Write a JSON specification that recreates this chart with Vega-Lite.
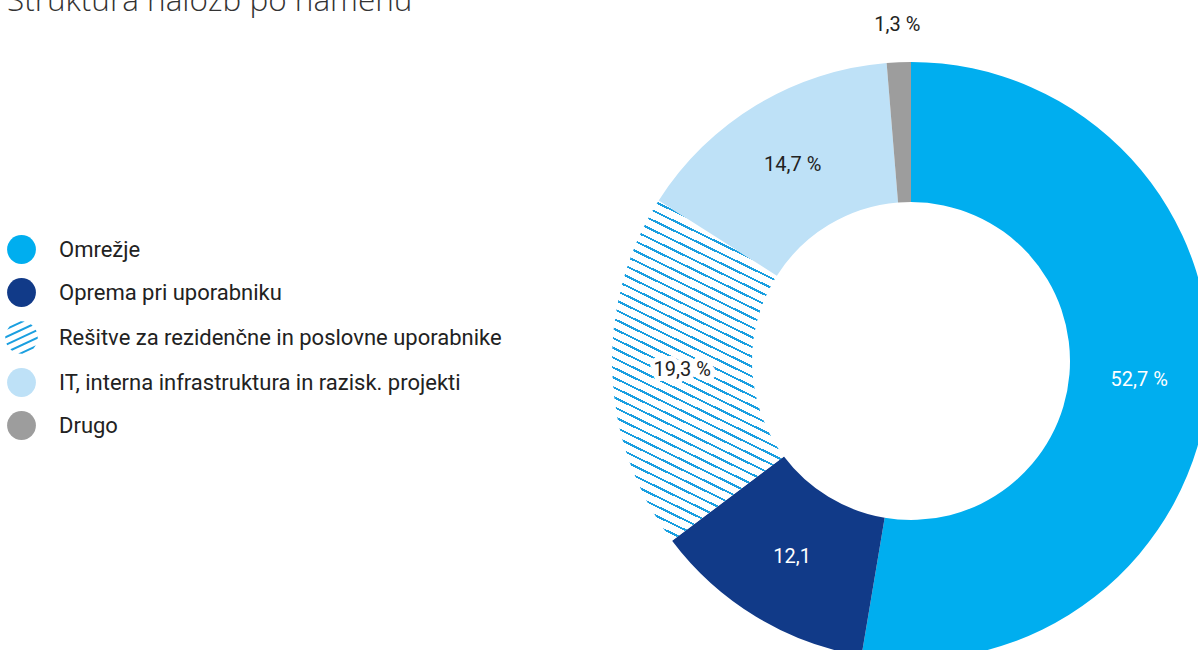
{
  "$schema": "https://vega.github.io/schema/vega-lite/v6.json",
  "autosize": {"type": "none"},
  "width": 574,
  "height": 578,
  "padding": {"left": 624, "top": 72, "right": 0, "bottom": 0},
  "background": "white",
  "title": {
    "text": "Struktura naložb po namenu",
    "anchor": "start",
    "frame": "bounds",
    "font": "Open Sans",
    "fontWeight": 300,
    "fontSize": 31.5,
    "color": "#333333",
    "dx": 0,
    "dy": 6
  },
  "data": {
    "values": [
      {"cat": "Omrežje", "value": 52.7, "label": "52,7 %", "rank": 1},
      {"cat": "Oprema pri uporabniku", "value": 12.1, "label": "12,1", "rank": 2},
      {"cat": "Rešitve za rezidenčne in poslovne uporabnike", "value": 19.3, "label": "19,3 %", "rank": 3},
      {"cat": "IT, interna infrastruktura in razisk. projekti", "value": 14.7, "label": "14,7 %", "rank": 4},
      {"cat": "Drugo", "value": 1.3, "label": "1,3 %", "rank": 5}
    ]
  },
  "layer": [
    {
      "mark": {"type": "arc", "outerRadius": 299, "innerRadius": 159},
      "encoding": {
        "theta": {"field": "value", "type": "quantitative", "stack": true},
        "order": {"field": "rank", "type": "quantitative"},
        "color": {
          "field": "cat",
          "type": "nominal",
          "sort": ["Omrežje", "Oprema pri uporabniku", "Rešitve za rezidenčne in poslovne uporabnike", "IT, interna infrastruktura in razisk. projekti", "Drugo"],
          "scale": {
            "domain": ["Omrežje", "Oprema pri uporabniku", "Rešitve za rezidenčne in poslovne uporabnike", "IT, interna infrastruktura in razisk. projekti", "Drugo"],
            "range": ["#00AEEF", "#113A88", "#1A9FE0", "#BEE1F7", "#9D9D9D"]
          },
          "condition": {
            "test": "datum.rank === 3",
            "value": {
              "gradient": "linear", "x1": 1, "y1": 0, "x2": 0.7104, "y2": 1.175,
              "stops": [
                {"offset":0.0100,"color":"#ffffff"},{"offset":0.0100,"color":"#1A9FE0"},{"offset":0.0153,"color":"#1A9FE0"},{"offset":0.0153,"color":"#ffffff"},
                {"offset":0.0331,"color":"#ffffff"},{"offset":0.0331,"color":"#1A9FE0"},{"offset":0.0384,"color":"#1A9FE0"},{"offset":0.0384,"color":"#ffffff"},
                {"offset":0.0562,"color":"#ffffff"},{"offset":0.0562,"color":"#1A9FE0"},{"offset":0.0615,"color":"#1A9FE0"},{"offset":0.0615,"color":"#ffffff"},
                {"offset":0.0793,"color":"#ffffff"},{"offset":0.0793,"color":"#1A9FE0"},{"offset":0.0846,"color":"#1A9FE0"},{"offset":0.0846,"color":"#ffffff"},
                {"offset":0.1024,"color":"#ffffff"},{"offset":0.1024,"color":"#1A9FE0"},{"offset":0.1077,"color":"#1A9FE0"},{"offset":0.1077,"color":"#ffffff"},
                {"offset":0.1255,"color":"#ffffff"},{"offset":0.1255,"color":"#1A9FE0"},{"offset":0.1308,"color":"#1A9FE0"},{"offset":0.1308,"color":"#ffffff"},
                {"offset":0.1486,"color":"#ffffff"},{"offset":0.1486,"color":"#1A9FE0"},{"offset":0.1539,"color":"#1A9FE0"},{"offset":0.1539,"color":"#ffffff"},
                {"offset":0.1717,"color":"#ffffff"},{"offset":0.1717,"color":"#1A9FE0"},{"offset":0.1770,"color":"#1A9FE0"},{"offset":0.1770,"color":"#ffffff"},
                {"offset":0.1948,"color":"#ffffff"},{"offset":0.1948,"color":"#1A9FE0"},{"offset":0.2001,"color":"#1A9FE0"},{"offset":0.2001,"color":"#ffffff"},
                {"offset":0.2179,"color":"#ffffff"},{"offset":0.2179,"color":"#1A9FE0"},{"offset":0.2232,"color":"#1A9FE0"},{"offset":0.2232,"color":"#ffffff"},
                {"offset":0.2410,"color":"#ffffff"},{"offset":0.2410,"color":"#1A9FE0"},{"offset":0.2463,"color":"#1A9FE0"},{"offset":0.2463,"color":"#ffffff"},
                {"offset":0.2641,"color":"#ffffff"},{"offset":0.2641,"color":"#1A9FE0"},{"offset":0.2694,"color":"#1A9FE0"},{"offset":0.2694,"color":"#ffffff"},
                {"offset":0.2872,"color":"#ffffff"},{"offset":0.2872,"color":"#1A9FE0"},{"offset":0.2925,"color":"#1A9FE0"},{"offset":0.2925,"color":"#ffffff"},
                {"offset":0.3103,"color":"#ffffff"},{"offset":0.3103,"color":"#1A9FE0"},{"offset":0.3156,"color":"#1A9FE0"},{"offset":0.3156,"color":"#ffffff"},
                {"offset":0.3334,"color":"#ffffff"},{"offset":0.3334,"color":"#1A9FE0"},{"offset":0.3387,"color":"#1A9FE0"},{"offset":0.3387,"color":"#ffffff"},
                {"offset":0.3565,"color":"#ffffff"},{"offset":0.3565,"color":"#1A9FE0"},{"offset":0.3618,"color":"#1A9FE0"},{"offset":0.3618,"color":"#ffffff"},
                {"offset":0.3796,"color":"#ffffff"},{"offset":0.3796,"color":"#1A9FE0"},{"offset":0.3849,"color":"#1A9FE0"},{"offset":0.3849,"color":"#ffffff"},
                {"offset":0.4027,"color":"#ffffff"},{"offset":0.4027,"color":"#1A9FE0"},{"offset":0.4080,"color":"#1A9FE0"},{"offset":0.4080,"color":"#ffffff"},
                {"offset":0.4258,"color":"#ffffff"},{"offset":0.4258,"color":"#1A9FE0"},{"offset":0.4311,"color":"#1A9FE0"},{"offset":0.4311,"color":"#ffffff"},
                {"offset":0.4489,"color":"#ffffff"},{"offset":0.4489,"color":"#1A9FE0"},{"offset":0.4542,"color":"#1A9FE0"},{"offset":0.4542,"color":"#ffffff"},
                {"offset":0.4720,"color":"#ffffff"},{"offset":0.4720,"color":"#1A9FE0"},{"offset":0.4773,"color":"#1A9FE0"},{"offset":0.4773,"color":"#ffffff"},
                {"offset":0.4951,"color":"#ffffff"},{"offset":0.4951,"color":"#1A9FE0"},{"offset":0.5004,"color":"#1A9FE0"},{"offset":0.5004,"color":"#ffffff"},
                {"offset":0.5182,"color":"#ffffff"},{"offset":0.5182,"color":"#1A9FE0"},{"offset":0.5235,"color":"#1A9FE0"},{"offset":0.5235,"color":"#ffffff"},
                {"offset":0.5413,"color":"#ffffff"},{"offset":0.5413,"color":"#1A9FE0"},{"offset":0.5466,"color":"#1A9FE0"},{"offset":0.5466,"color":"#ffffff"},
                {"offset":0.5644,"color":"#ffffff"},{"offset":0.5644,"color":"#1A9FE0"},{"offset":0.5697,"color":"#1A9FE0"},{"offset":0.5697,"color":"#ffffff"},
                {"offset":0.5875,"color":"#ffffff"},{"offset":0.5875,"color":"#1A9FE0"},{"offset":0.5928,"color":"#1A9FE0"},{"offset":0.5928,"color":"#ffffff"},
                {"offset":0.6106,"color":"#ffffff"},{"offset":0.6106,"color":"#1A9FE0"},{"offset":0.6159,"color":"#1A9FE0"},{"offset":0.6159,"color":"#ffffff"},
                {"offset":0.6337,"color":"#ffffff"},{"offset":0.6337,"color":"#1A9FE0"},{"offset":0.6390,"color":"#1A9FE0"},{"offset":0.6390,"color":"#ffffff"},
                {"offset":0.6568,"color":"#ffffff"},{"offset":0.6568,"color":"#1A9FE0"},{"offset":0.6621,"color":"#1A9FE0"},{"offset":0.6621,"color":"#ffffff"},
                {"offset":0.6799,"color":"#ffffff"},{"offset":0.6799,"color":"#1A9FE0"},{"offset":0.6852,"color":"#1A9FE0"},{"offset":0.6852,"color":"#ffffff"},
                {"offset":0.7030,"color":"#ffffff"},{"offset":0.7030,"color":"#1A9FE0"},{"offset":0.7083,"color":"#1A9FE0"},{"offset":0.7083,"color":"#ffffff"},
                {"offset":0.7261,"color":"#ffffff"},{"offset":0.7261,"color":"#1A9FE0"},{"offset":0.7314,"color":"#1A9FE0"},{"offset":0.7314,"color":"#ffffff"},
                {"offset":0.7492,"color":"#ffffff"},{"offset":0.7492,"color":"#1A9FE0"},{"offset":0.7545,"color":"#1A9FE0"},{"offset":0.7545,"color":"#ffffff"},
                {"offset":0.7723,"color":"#ffffff"},{"offset":0.7723,"color":"#1A9FE0"},{"offset":0.7776,"color":"#1A9FE0"},{"offset":0.7776,"color":"#ffffff"},
                {"offset":0.7954,"color":"#ffffff"},{"offset":0.7954,"color":"#1A9FE0"},{"offset":0.8007,"color":"#1A9FE0"},{"offset":0.8007,"color":"#ffffff"},
                {"offset":0.8185,"color":"#ffffff"},{"offset":0.8185,"color":"#1A9FE0"},{"offset":0.8238,"color":"#1A9FE0"},{"offset":0.8238,"color":"#ffffff"},
                {"offset":0.8416,"color":"#ffffff"},{"offset":0.8416,"color":"#1A9FE0"},{"offset":0.8469,"color":"#1A9FE0"},{"offset":0.8469,"color":"#ffffff"},
                {"offset":0.8647,"color":"#ffffff"},{"offset":0.8647,"color":"#1A9FE0"},{"offset":0.8700,"color":"#1A9FE0"},{"offset":0.8700,"color":"#ffffff"},
                {"offset":0.8878,"color":"#ffffff"},{"offset":0.8878,"color":"#1A9FE0"},{"offset":0.8931,"color":"#1A9FE0"},{"offset":0.8931,"color":"#ffffff"},
                {"offset":0.9109,"color":"#ffffff"},{"offset":0.9109,"color":"#1A9FE0"},{"offset":0.9162,"color":"#1A9FE0"},{"offset":0.9162,"color":"#ffffff"},
                {"offset":0.9340,"color":"#ffffff"},{"offset":0.9340,"color":"#1A9FE0"},{"offset":0.9393,"color":"#1A9FE0"},{"offset":0.9393,"color":"#ffffff"},
                {"offset":0.9571,"color":"#ffffff"},{"offset":0.9571,"color":"#1A9FE0"},{"offset":0.9624,"color":"#1A9FE0"},{"offset":0.9624,"color":"#ffffff"},
                {"offset":0.9802,"color":"#ffffff"},{"offset":0.9802,"color":"#1A9FE0"},{"offset":0.9855,"color":"#1A9FE0"},{"offset":0.9855,"color":"#ffffff"}
              ]
            }
          },
          "legend": {
            "orient": "none",
            "legendX": -617,
            "legendY": 163,
            "title": null,
            "padding": 0,
            "symbolType": "circle",
            "symbolSize": 830,
            "symbolStrokeWidth": 0,
            "symbolOpacity": 1,
            "labelFont": "Roboto",
            "labelFontSize": 22,
            "labelColor": "#222222",
            "labelOffset": 23,
            "rowPadding": 14,
            "labelLimit": 600,
            "encode": {
              "symbols": {
                "update": {
                  "shape": [
                    {
                      "test": "datum.value === 'Rešitve za rezidenčne in poslovne uporabnike'",
                      "value": "M-1.0496,0.4128L0.9904,-0.5396L1.0496,-0.4128L-0.9904,0.5396Z M-0.7739,0.8204L1.1259,-0.0666L1.1244,0.0885L-0.6540,0.9189Z M0.7739,-0.8204L-1.1259,0.0666L-1.1244,-0.0885L0.6540,-0.9189Z M-0.2322,1.1037L0.9952,0.5307L0.8322,0.7614L0.0494,1.1268Z M0.2322,-1.1037L-0.9952,-0.5307L-0.8322,-0.7614L-0.0494,-1.1268Z"
                    },
                    {"value": "circle"}
                  ]
                }
              }
            }
          }
        }
      }
    },
    {
      "mark": {"type": "text", "radius": 229, "font": "Roboto", "fontSize": 20, "stroke": "white", "strokeWidth": 10, "strokeJoin": "round", "fill": "white"},
      "encoding": {
        "theta": {"field": "value", "type": "quantitative", "stack": true},
        "order": {"field": "rank", "type": "quantitative"},
        "text": {"condition": {"test": "datum.rank === 3", "field": "label"}, "value": ""}
      }
    },
    {
      "mark": {"type": "text", "radius": 229, "font": "Roboto", "fontSize": 20},
      "encoding": {
        "theta": {"field": "value", "type": "quantitative", "stack": true},
        "order": {"field": "rank", "type": "quantitative"},
        "text": {"condition": {"test": "datum.rank !== 5", "field": "label"}, "value": ""},
        "color": {"condition": {"test": "datum.rank <= 2", "value": "#ffffff"}, "value": "#222222"}
      }
    },
    {
      "mark": {"type": "text", "radius": 336, "font": "Roboto", "fontSize": 20, "color": "#222222"},
      "encoding": {
        "theta": {"field": "value", "type": "quantitative", "stack": true},
        "order": {"field": "rank", "type": "quantitative"},
        "text": {"condition": {"test": "datum.rank === 5", "field": "label"}, "value": ""}
      }
    }
  ]
}
